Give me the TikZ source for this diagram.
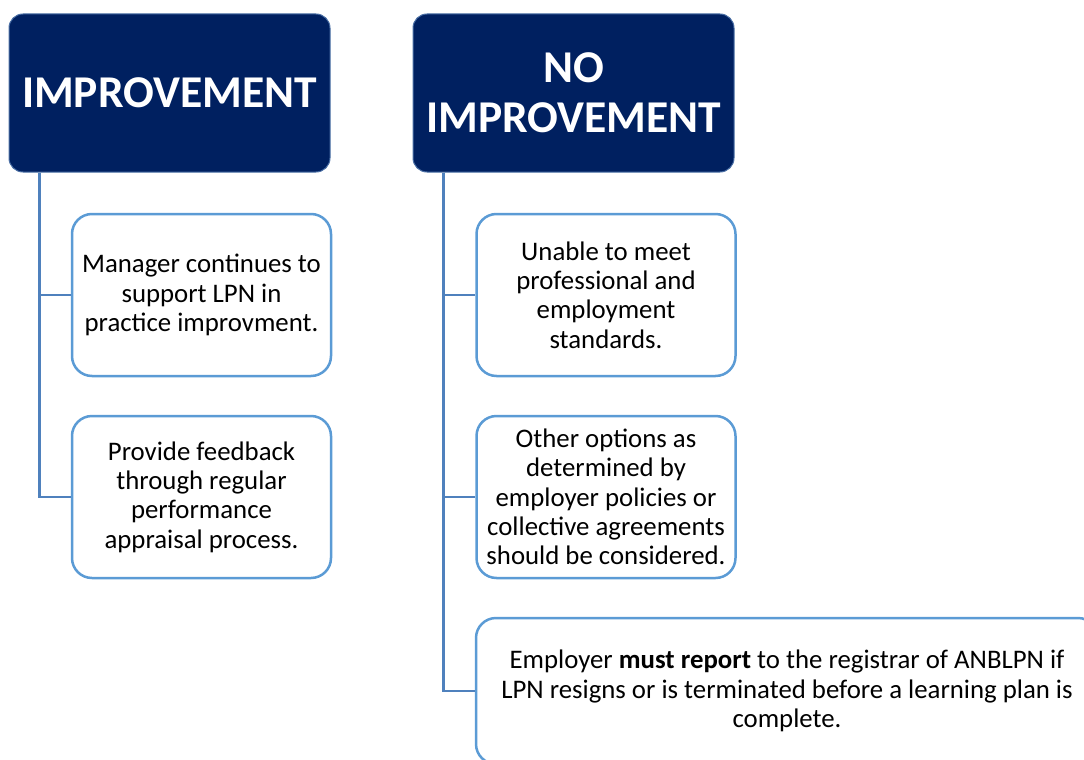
\documentclass[tikz,border=0pt]{standalone}
\usepackage{fontspec}
\setmainfont{Carlito}
\usetikzlibrary{positioning}

\definecolor{navy}{HTML}{002060}
\definecolor{hdrline}{HTML}{4A6FA5}
\definecolor{boxline}{HTML}{5B9BD5}
\definecolor{linkline}{HTML}{4F81BD}

\tikzset{
  header/.style={draw=hdrline, line width=1pt, fill=navy, rounded corners=14pt,
    minimum width=321pt, minimum height=158pt, text=white, align=center,
    font=\fontsize{45.5}{50}\selectfont\bfseries},
  item/.style={draw=boxline, line width=2.5pt, fill=white, rounded corners=20pt,
    minimum width=259pt, minimum height=162pt, align=center,
    font=\fontsize{26.8}{29.3}\selectfont},
  link/.style={draw=linkline, line width=2.2pt}
}

\begin{document}
\begin{tikzpicture}[x=1pt,y=-1pt]

\useasboundingbox (0,0) rectangle (1084,760);

% Headers
\node[header] (imp)   at (169.5,93) {IMPROVEMENT};
\node[header] (noimp) at (573.5,93) {NO\\IMPROVEMENT};

% Left column
\node[item] (mgr)  at (201.5,295) {Manager continues to\\support LPN in\\practice improvment.};
\node[item] (feed) at (201.5,497) {Provide feedback\\through regular\\performance\\appraisal process.};

% Right column
\node[item] (unable) at (606,295) {Unable to meet\\professional and\\employment\\standards.};
\node[item] (other)  at (606,497) {Other options as\\determined by\\employer policies or\\collective agreements\\should be considered.};
\node[item, minimum width=622pt, minimum height=146pt] (report) at (787,691)
  {Employer \textbf{must report} to the registrar of ANBLPN if\\LPN resigns or is terminated before a learning plan is\\complete.};

% Connectors
\draw[link] ([xshift=31pt]imp.south west) |- (mgr.west);
\draw[link] ([xshift=31pt]imp.south west) |- (feed.west);
\draw[link] ([xshift=31pt]noimp.south west) |- (unable.west);
\draw[link] ([xshift=31pt]noimp.south west) |- (other.west);
\draw[link] ([xshift=31pt]noimp.south west) |- (report.west);

\end{tikzpicture}
\end{document}
